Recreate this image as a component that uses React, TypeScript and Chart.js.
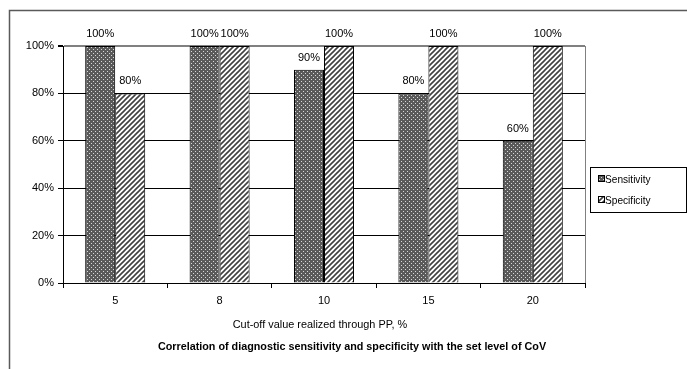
import { useEffect, useRef } from "react";
import { Chart, registerables } from "chart.js";

Chart.register(...registerables);

// Cut-off values (x categories) and the two measured rates, in %
const cutoffs = ["5", "8", "10", "15", "20"];
const sensitivity = [100, 100, 90, 80, 60];
const specificity = [80, 100, 100, 100, 100];
const seriesNames = ["Sensitivity", "Specificity"];
const yTickStep = 20;
const yMax = 100;
const xTitle = "Cut-off value realized through PP, %";
const chartTitle =
  "Correlation of diagnostic sensitivity and specificity with the set level of CoV";

const FONT = "'Liberation Sans', Arial, sans-serif";

function dotPattern(ctx: CanvasRenderingContext2D) {
  const c = document.createElement("canvas");
  c.width = 4;
  c.height = 4;
  const g = c.getContext("2d")!;
  g.fillStyle = "#5a5a5a";
  g.fillRect(0, 0, 4, 4);
  g.fillStyle = "#d8d8d8";
  g.fillRect(1, 1, 1, 1);
  g.fillRect(3, 3, 1, 1);
  return ctx.createPattern(c, "repeat")!;
}

function stripePattern(ctx: CanvasRenderingContext2D) {
  const s = 5;
  const c = document.createElement("canvas");
  c.width = s;
  c.height = s;
  const g = c.getContext("2d")!;
  g.fillStyle = "#ffffff";
  g.fillRect(0, 0, s, s);
  g.strokeStyle = "#404040";
  g.lineWidth = 1.6;
  g.beginPath();
  g.moveTo(-1, s + 1);
  g.lineTo(s + 1, -1);
  g.moveTo(-1, 1);
  g.lineTo(1, -1);
  g.moveTo(s - 1, s + 1);
  g.lineTo(s + 1, s - 1);
  g.stroke();
  return ctx.createPattern(c, "repeat")!;
}

// Draws text squeezed horizontally, centred or left-aligned at x
function drawNarrow(
  ctx: CanvasRenderingContext2D,
  text: string,
  x: number,
  y: number,
  font: string,
  squeeze: number,
  align: "center" | "left"
) {
  ctx.save();
  ctx.font = font;
  ctx.textBaseline = "middle";
  ctx.textAlign = align;
  ctx.translate(x, y);
  ctx.scale(squeeze, 1);
  ctx.fillText(text, 0, 0);
  ctx.restore();
}

const decorPlugin = {
  id: "decor",
  beforeDraw(chart: any) {
    const ctx: CanvasRenderingContext2D = chart.ctx;
    ctx.save();
    ctx.fillStyle = "#ffffff";
    ctx.fillRect(0, 0, chart.width, chart.height);
    // outer frame (top and left edges)
    ctx.strokeStyle = "#5a5a5a";
    ctx.lineWidth = 1.5;
    ctx.beginPath();
    ctx.moveTo(9.5, chart.height);
    ctx.lineTo(9.5, 10.5);
    ctx.lineTo(chart.width, 10.5);
    ctx.stroke();
    ctx.restore();
  },
  afterDraw(chart: any) {
    const ctx: CanvasRenderingContext2D = chart.ctx;
    const area = chart.chartArea;
    ctx.save();
    // right edge of the plot area
    ctx.strokeStyle = "#808080";
    ctx.lineWidth = 1;
    ctx.beginPath();
    ctx.moveTo(Math.round(area.right) + 0.5, area.top);
    ctx.lineTo(Math.round(area.right) + 0.5, area.bottom);
    ctx.stroke();

    // value labels above bars
    ctx.fillStyle = "#000";
    ctx.font = `11px ${FONT}`;
    ctx.textAlign = "center";
    ctx.textBaseline = "alphabetic";
    chart.data.datasets.forEach((ds: any, i: number) => {
      const meta = chart.getDatasetMeta(i);
      meta.data.forEach((bar: any, j: number) => {
        ctx.fillText(`${ds.data[j]}%`, bar.x, bar.y - 9);
      });
    });

    // axis title and chart title
    const midX = (area.left + area.right) / 2;
    drawNarrow(ctx, xTitle, midX - 4, area.bottom + 42, `11px ${FONT}`, 0.99, "center");
    drawNarrow(ctx, chartTitle, midX + 28, area.bottom + 64, `bold 11px ${FONT}`, 0.98, "center");

    // legend box
    const lx = 590;
    const ly = 167;
    const lw = 96;
    const lh = 45;
    ctx.strokeStyle = "#000";
    ctx.lineWidth = 1;
    ctx.strokeRect(lx + 0.5, ly + 0.5, lw, lh);
    chart.data.datasets.forEach((ds: any, i: number) => {
      const cy = ly + 12 + i * 21;
      ctx.fillStyle = ds.backgroundColor;
      ctx.fillRect(lx + 8, cy - 3, 6, 6);
      ctx.strokeStyle = "#000";
      ctx.strokeRect(lx + 8.5, cy - 3.5, 6, 6);
      ctx.fillStyle = "#000";
      drawNarrow(ctx, ds.label, lx + 15, cy + 0.5, `11px ${FONT}`, 0.92, "left");
    });
    ctx.restore();
  },
};

export default function App() {
  const ref = useRef<HTMLCanvasElement | null>(null);

  useEffect(() => {
    const canvas = ref.current!;
    const ctx = canvas.getContext("2d")!;
    const chart = new Chart(canvas, {
      type: "bar",
      data: {
        labels: cutoffs,
        datasets: [
          {
            label: seriesNames[0],
            data: sensitivity,
            backgroundColor: dotPattern(ctx) as any,
            borderColor: "#000",
            borderWidth: 1,
            categoryPercentage: 0.575,
            barPercentage: 1,
          },
          {
            label: seriesNames[1],
            data: specificity,
            backgroundColor: stripePattern(ctx) as any,
            borderColor: "#000",
            borderWidth: 1,
            categoryPercentage: 0.575,
            barPercentage: 1,
          },
        ],
      },
      options: {
        responsive: false,
        animation: false,
        devicePixelRatio: 1,
        layout: { padding: { top: 46, right: 102, left: 0, bottom: 0 } },
        plugins: {
          legend: { display: false },
          tooltip: { enabled: false },
          title: { display: false },
        },
        scales: {
          x: {
            afterFit: (s: any) => {
              s.height = 86;
            },
            grid: {
              drawOnChartArea: false,
              drawTicks: true,
              tickLength: 5,
              color: "#000",
              offset: true,
            },
            border: { color: "#000", width: 1 },
            ticks: {
              color: "#000",
              font: { family: FONT, size: 11 },
              padding: 6,
            },
          },
          y: {
            min: 0,
            max: yMax,
            afterFit: (s: any) => {
              s.width = 63;
            },
            grid: {
              color: (c: any) => (c.tick && c.tick.value === yMax ? "#808080" : "#000"),
              lineWidth: (c: any) => (c.tick && c.tick.value === yMax ? 2 : 1),
              tickColor: "#000",
              tickLength: 5,
              drawTicks: true,
            },
            border: { color: "#000", width: 1 },
            ticks: {
              stepSize: yTickStep,
              color: "#000",
              padding: 4,
              font: { family: FONT, size: 11 },
              callback: (v: any) => `${v}%`,
            },
          },
        },
      },
      plugins: [decorPlugin],
    });
    return () => chart.destroy();
  }, []);

  return (
    <div style={{ position: "fixed", left: 0, top: 0, width: 687, height: 369, background: "#fff" }}>
      <canvas ref={ref} width={687} height={369} style={{ display: "block" }} />
    </div>
  );
}
